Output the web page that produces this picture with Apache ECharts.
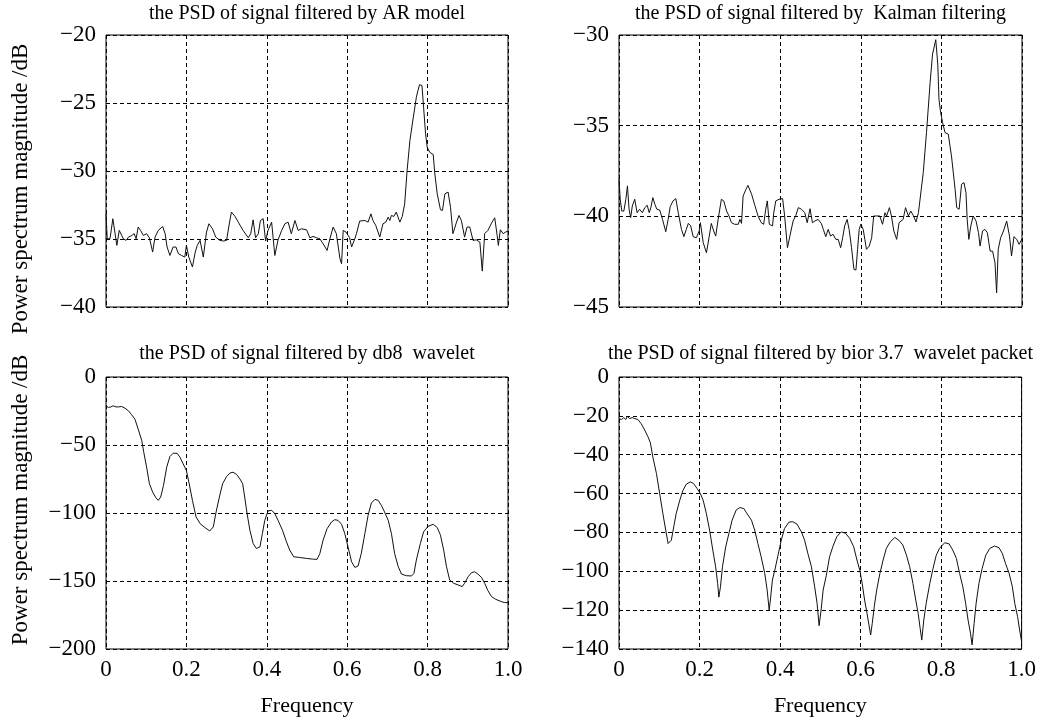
<!DOCTYPE html>
<html>
<head>
<meta charset="utf-8">
<script src="https://cdn.jsdelivr.net/npm/echarts@6.0.0/dist/echarts.min.js"></script>
<style>
html,body{margin:0;padding:0;background:#fff;}
#chart{width:1039px;height:722px;}
</style>
</head>
<body>
<div id="chart"></div>
<script>
// ---- titles / labels ----
const panelTitles = [
  'the PSD of signal filtered by AR model',
  'the PSD of signal filtered by  Kalman filtering',
  'the PSD of signal filtered by db8  wavelet',
  'the PSD of signal filtered by bior 3.7  wavelet packet'
];
const xAxisTitle = 'Frequency';
const yAxisTitle = 'Power spectrum magnitude /dB';

// ---- axis ranges [min, max, interval] ----
const xRange = [0, 1, 0.2];
const yRanges = [
  [-40, -20, 5],
  [-45, -30, 5],
  [-200, 0, 50],
  [-140, 0, 20]
];

// ---- series values [frequency, dB] ----
const arPsd = [[0,-33.15],[.003,-34.98],[.010,-34.98],[.017,-33.51],[.021,-33.64],[.027,-35.47],[.033,-34.37],[.037,-34.25],[.043,-34.98],[.050,-35.10],[.056,-34.86],[.064,-34.74],[.070,-34.61],[.075,-34.98],[.080,-34.12],[.086,-34.37],[.093,-34.74],[.101,-34.61],[.108,-34.91],[.116,-35.96],[.122,-34.86],[.130,-34.37],[.141,-34.08],[.147,-34.61],[.152,-35.59],[.159,-36.21],[.167,-35.59],[.174,-35.59],[.180,-36.08],[.188,-36.21],[.196,-36.33],[.200,-35.47],[.206,-36.33],[.215,-37.06],[.222,-35.96],[.227,-35.47],[.234,-35.10],[.242,-36.33],[.250,-34.49],[.256,-33.88],[.265,-34.25],[.273,-34.86],[.283,-35.10],[.292,-35.15],[.300,-35.10],[.307,-33.83],[.312,-33.02],[.321,-33.34],[.329,-33.76],[.341,-34.37],[.354,-34.91],[.360,-34.61],[.366,-33.59],[.372,-34.91],[.379,-34.61],[.384,-33.64],[.391,-33.51],[.397,-35.15],[.403,-34.37],[.412,-33.76],[.420,-36.21],[.428,-35.06],[.437,-34.37],[.445,-33.88],[.453,-33.76],[.461,-34.61],[.470,-33.64],[.478,-34.37],[.486,-34.25],[.499,-34.32],[.507,-34.91],[.515,-34.81],[.524,-34.91],[.532,-34.98],[.540,-35.35],[.550,-35.84],[.557,-34.98],[.565,-34.12],[.573,-34.61],[.582,-36.45],[.586,-36.82],[.590,-34.37],[.597,-34.49],[.606,-34.91],[.611,-35.59],[.619,-34.98],[.623,-34.61],[.631,-33.68],[.644,-33.64],[.652,-33.76],[.659,-33.15],[.664,-33.64],[.671,-34.00],[.681,-34.86],[.689,-33.88],[.696,-33.76],[.702,-33.39],[.706,-33.64],[.710,-33.27],[.716,-33.34],[.722,-33.02],[.731,-33.76],[.737,-33.34],[.743,-32.41],[.749,-29.96],[.756,-27.76],[.762,-26.54],[.772,-24.58],[.776,-24.09],[.780,-23.65],[.786,-23.72],[.790,-25.31],[.795,-27.27],[.799,-28.25],[.805,-28.62],[.814,-28.79],[.818,-30.21],[.824,-31.68],[.832,-32.85],[.837,-32.90],[.843,-31.68],[.851,-31.55],[.857,-32.66],[.863,-34.61],[.872,-33.76],[.878,-33.27],[.884,-33.64],[.892,-34.86],[.898,-34.12],[.905,-34.12],[.913,-35.10],[.921,-35.06],[.930,-35.23],[.936,-37.36],[.942,-34.61],[.950,-34.37],[.959,-33.83],[.967,-33.44],[.973,-34.74],[.976,-35.47],[.981,-34.32],[.988,-34.61],[.994,-34.49],[1.0,-34.42]];

const kalmanPsd = [[0,-37.96],[.003,-39.06],[.007,-39.71],[.012,-39.71],[.017,-39.06],[.021,-38.32],[.025,-39.61],[.029,-40.07],[.033,-39.43],[.039,-39.06],[.045,-39.80],[.051,-39.61],[.058,-39.80],[.064,-39.52],[.070,-39.39],[.075,-39.80],[.079,-39.52],[.084,-38.97],[.089,-39.34],[.094,-39.61],[.101,-39.65],[.108,-40.17],[.116,-40.85],[.122,-40.17],[.127,-39.47],[.134,-39.15],[.141,-39.02],[.147,-39.80],[.155,-40.72],[.161,-41.12],[.167,-40.72],[.172,-40.39],[.178,-40.53],[.184,-41.12],[.192,-41.18],[.199,-40.81],[.202,-40.35],[.209,-41.45],[.217,-42.01],[.224,-41.09],[.229,-40.39],[.235,-40.81],[.240,-41.09],[.246,-40.17],[.254,-39.06],[.260,-39.15],[.267,-39.71],[.273,-39.98],[.279,-40.35],[.287,-40.44],[.296,-40.44],[.300,-40.17],[.304,-40.39],[.308,-38.88],[.315,-38.51],[.320,-38.29],[.329,-38.78],[.337,-39.39],[.345,-39.98],[.353,-40.35],[.359,-40.44],[.364,-39.61],[.368,-39.15],[.373,-40.44],[.381,-40.53],[.384,-39.80],[.389,-39.15],[.397,-39.06],[.406,-39.02],[.411,-39.98],[.418,-41.73],[.424,-41.09],[.432,-40.26],[.439,-39.94],[.445,-39.52],[.453,-39.61],[.461,-39.80],[.467,-40.35],[.474,-39.58],[.480,-40.35],[.486,-40.26],[.494,-40.17],[.502,-40.39],[.507,-40.72],[.513,-41.12],[.519,-40.72],[.525,-41.09],[.531,-40.99],[.538,-41.27],[.544,-41.27],[.550,-41.73],[.555,-41.18],[.560,-40.53],[.566,-40.17],[.571,-40.72],[.577,-41.73],[.583,-42.93],[.588,-42.96],[.592,-41.82],[.596,-40.72],[.600,-40.44],[.606,-40.72],[.610,-41.27],[.614,-41.82],[.621,-41.64],[.627,-41.18],[.632,-39.98],[.639,-39.98],[.647,-39.98],[.654,-40.44],[.660,-39.80],[.664,-39.98],[.671,-39.52],[.676,-39.98],[.682,-40.81],[.689,-41.27],[.695,-40.35],[.699,-40.26],[.705,-40.17],[.711,-39.52],[.718,-39.98],[.724,-39.71],[.730,-39.94],[.737,-40.31],[.743,-39.80],[.748,-38.88],[.755,-37.59],[.763,-35.38],[.772,-32.62],[.778,-31.05],[.781,-30.77],[.786,-30.26],[.791,-31.60],[.794,-33.54],[.798,-34.27],[.803,-34.83],[.809,-35.38],[.817,-35.47],[.825,-36.67],[.834,-38.51],[.838,-39.52],[.844,-39.61],[.850,-38.23],[.856,-38.14],[.861,-38.69],[.864,-40.17],[.868,-41.27],[.873,-40.53],[.879,-39.98],[.886,-40.26],[.892,-40.90],[.896,-41.64],[.902,-40.81],[.908,-40.72],[.914,-40.90],[.921,-41.92],[.927,-41.92],[.933,-42.56],[.937,-44.22],[.941,-41.82],[.947,-41.18],[.954,-40.81],[.962,-40.26],[.969,-41.09],[.974,-42.19],[.980,-41.12],[.987,-41.27],[.993,-41.55],[1.0,-41.23]];

const db8Psd = [[0,-21.2],[.006,-22.4],[.012,-22.0],[.018,-21.2],[.025,-22.0],[.031,-22.0],[.039,-21.7],[.047,-22.9],[.056,-24.9],[.064,-27.8],[.072,-31.0],[.080,-38.3],[.089,-46.8],[.094,-55.4],[.101,-66.3],[.108,-78.5],[.116,-84.6],[.124,-88.8],[.130,-90.7],[.136,-88.3],[.143,-79.8],[.151,-66.3],[.159,-58.5],[.167,-56.1],[.177,-56.1],[.184,-59.0],[.192,-63.9],[.200,-68.8],[.207,-78.5],[.215,-90.7],[.224,-102.9],[.234,-107.8],[.246,-110.7],[.258,-113.2],[.267,-110.2],[.273,-100.5],[.282,-88.3],[.290,-78.5],[.300,-73.2],[.308,-70.7],[.316,-70.0],[.325,-71.7],[.333,-74.9],[.340,-78.5],[.345,-88.3],[.351,-100.5],[.358,-112.7],[.366,-122.4],[.374,-126.1],[.383,-124.9],[.389,-115.1],[.395,-105.4],[.403,-98.5],[.412,-98.0],[.420,-100.5],[.428,-105.4],[.439,-112.7],[.449,-121.2],[.457,-127.3],[.467,-132.2],[.482,-132.7],[.499,-133.4],[.514,-133.9],[.525,-134.1],[.532,-129.8],[.540,-120.0],[.550,-111.5],[.561,-106.6],[.569,-104.9],[.577,-105.4],[.586,-108.3],[.594,-115.1],[.602,-124.9],[.611,-135.9],[.619,-140.0],[.627,-139.0],[.635,-129.8],[.644,-115.1],[.652,-101.7],[.660,-92.7],[.669,-90.0],[.677,-90.7],[.685,-94.4],[.693,-99.3],[.702,-105.4],[.710,-115.1],[.718,-129.8],[.727,-139.5],[.735,-144.9],[.747,-146.1],[.760,-146.3],[.766,-144.4],[.772,-134.6],[.782,-122.4],[.790,-113.9],[.801,-109.8],[.814,-108.3],[.824,-110.7],[.832,-116.3],[.840,-127.3],[.847,-139.5],[.855,-149.3],[.865,-151.7],[.876,-152.9],[.886,-154.1],[.892,-151.7],[.901,-146.8],[.909,-143.9],[.917,-143.2],[.925,-144.9],[.934,-147.3],[.942,-151.7],[.950,-157.1],[.959,-161.5],[.969,-163.4],[.983,-165.1],[.992,-165.9],[1.0,-165.9]];

const biorPsd = [[0,-21.4],[.006,-21.9],[.012,-20.9],[.017,-21.9],[.021,-20.2],[.026,-21.4],[.033,-20.9],[.039,-21.4],[.047,-21.9],[.055,-24.0],[.064,-27.4],[.072,-30.8],[.078,-33.9],[.084,-41.1],[.093,-49.7],[.101,-60.0],[.109,-70.3],[.116,-78.8],[.122,-85.7],[.126,-86.5],[.130,-84.0],[.136,-77.1],[.142,-70.3],[.151,-63.4],[.159,-58.3],[.167,-55.2],[.177,-54.0],[.185,-54.8],[.194,-57.4],[.202,-60.0],[.209,-63.4],[.217,-70.3],[.225,-78.8],[.233,-89.1],[.240,-97.7],[.245,-106.2],[.248,-113.3],[.252,-108.0],[.257,-97.7],[.265,-87.4],[.273,-80.5],[.281,-73.7],[.291,-68.5],[.300,-67.2],[.310,-67.7],[.318,-70.3],[.329,-73.7],[.337,-78.8],[.345,-85.7],[.353,-92.5],[.362,-101.1],[.368,-109.7],[.373,-120.0],[.376,-114.8],[.381,-104.5],[.387,-99.4],[.395,-91.7],[.403,-84.0],[.411,-78.0],[.422,-74.7],[.432,-74.5],[.442,-75.7],[.453,-79.7],[.461,-84.0],[.469,-90.8],[.478,-97.7],[.486,-108.0],[.492,-116.5],[.497,-128.0],[.502,-119.9],[.507,-109.7],[.515,-102.0],[.523,-92.5],[.531,-87.4],[.541,-82.2],[.552,-79.7],[.563,-80.5],[.573,-83.1],[.583,-87.4],[.591,-94.2],[.598,-99.4],[.604,-106.2],[.610,-114.8],[.616,-121.7],[.625,-132.8],[.629,-126.8],[.634,-118.2],[.640,-109.7],[.648,-101.1],[.656,-94.2],[.664,-88.2],[.674,-84.8],[.685,-82.6],[.695,-84.0],[.705,-86.5],[.714,-91.7],[.722,-97.7],[.730,-106.2],[.737,-114.8],[.743,-121.7],[.748,-129.4],[.752,-135.4],[.757,-125.1],[.763,-116.5],[.772,-106.2],[.780,-98.5],[.788,-91.7],[.796,-88.2],[.809,-85.3],[.820,-85.9],[.829,-89.1],[.838,-93.4],[.846,-101.1],[.854,-108.0],[.861,-116.5],[.867,-125.1],[.873,-131.9],[.877,-137.9],[.882,-126.8],[.887,-116.5],[.894,-106.2],[.902,-98.5],[.911,-91.7],[.921,-88.2],[.933,-87.0],[.944,-87.9],[.952,-90.8],[.960,-96.0],[.969,-101.1],[.977,-108.0],[.983,-116.5],[.990,-123.4],[.995,-130.2],[1.0,-136.2]];

const seriesData = [arPsd, kalmanPsd, db8Psd, biorPsd];

// ---- layout ----
const FONT = '"Liberation Serif","Times New Roman",serif';
const grids = [
  {left: 106, top: 35, width: 402, height: 272},
  {left: 619, top: 35, width: 403, height: 272},
  {left: 106, top: 377, width: 402, height: 272},
  {left: 619, top: 377, width: 403, height: 272}
];
const titleTops = [4, 4, 344, 344];

const dashed = {show: true, lineStyle: {color: '#000', width: 1, type: [4, 3]}};
const minusFmt = v => (v < 0 ? '\u2212' + Math.abs(v) : String(v));

const option = {
  animation: false,
  backgroundColor: '#fff',
  title: panelTitles.map((t, i) => ({
    text: t,
    left: grids[i].left + grids[i].width / 2,
    top: titleTops[i],
    textAlign: 'center',
    padding: 0,
    textStyle: {fontFamily: FONT, fontSize: 20, fontWeight: 'normal', color: '#000'}
  })),
  grid: grids.map(g => Object.assign({show: true, borderColor: '#000', borderWidth: 1, backgroundColor: 'transparent', containLabel: false}, g)),
  xAxis: grids.map((g, i) => ({
    type: 'value', gridIndex: i,
    min: xRange[0], max: xRange[1], interval: xRange[2],
    axisLine: {show: false}, axisTick: {show: false},
    splitLine: dashed,
    axisLabel: {
      show: i >= 2, margin: 9,
      fontFamily: FONT, fontSize: 23, color: '#000',
      formatter: v => (v === 0 ? '0' : v.toFixed(1))
    },
    name: i >= 2 ? xAxisTitle : '',
    nameLocation: 'middle', nameGap: 46,
    nameTextStyle: {fontFamily: FONT, fontSize: 22, color: '#000'}
  })),
  yAxis: grids.map((g, i) => ({
    type: 'value', gridIndex: i,
    min: yRanges[i][0], max: yRanges[i][1], interval: yRanges[i][2],
    axisLine: {show: false}, axisTick: {show: false},
    splitLine: dashed,
    axisLabel: {margin: 10, fontFamily: FONT, fontSize: 23, color: '#000', formatter: minusFmt}
  })),
  series: seriesData.map((d, i) => ({
    type: 'line', xAxisIndex: i, yAxisIndex: i,
    data: d, showSymbol: false, symbol: 'none', smooth: false,
    lineStyle: {color: '#111', width: 1},
    z: 3
  })),
  graphic: [
    {type: 'text', x: 21, y: 189, rotation: Math.PI / 2,
     style: {text: yAxisTitle, fill: '#000', font: '23px ' + FONT, textAlign: 'center', textVerticalAlign: 'middle'}},
    {type: 'text', x: 21, y: 500, rotation: Math.PI / 2,
     style: {text: yAxisTitle, fill: '#000', font: '23px ' + FONT, textAlign: 'center', textVerticalAlign: 'middle'}}
  ]
};

const chart = echarts.init(document.getElementById('chart'), null, {renderer: 'canvas'});
chart.setOption(option);
</script>
</body>
</html>
